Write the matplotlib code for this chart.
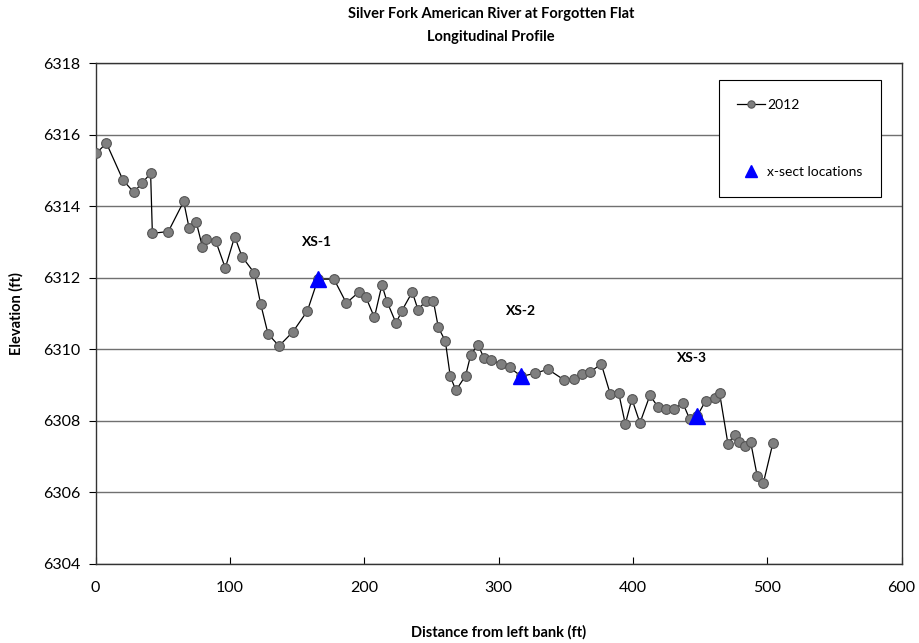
import matplotlib
matplotlib.use("Agg")
import matplotlib.pyplot as plt

# 2012 longitudinal profile (distance ft, elevation ft)
dist = [0.5, 8.0, 20.3, 28.3, 34.5, 40.9, 42.2, 54.1, 65.5, 69.5, 74.9, 79.4, 81.9,
        89.3, 96.5, 103.5, 108.9, 118.1, 122.8, 128.3, 136.5, 146.9, 157.6, 165.5,
        177.4, 186.6, 196.0, 201.0, 207.5, 213.1, 216.9, 223.6, 228.0, 235.7, 240.0,
        245.7, 251.4, 255.1, 260.3, 264.0, 268.2, 275.4, 279.2, 284.6, 289.1, 294.6,
        301.8, 308.2, 316.9, 327.3, 336.7, 348.4, 356.4, 361.8, 367.7, 376.4, 383.1,
        389.3, 394.3, 399.2, 405.2, 412.6, 418.8, 424.7, 430.3, 437.2, 442.2, 447.9,
        454.1, 460.8, 464.5, 470.7, 475.7, 478.9, 483.6, 487.6, 492.5, 497.0, 504.2]
elev = [6315.48, 6315.76, 6314.73, 6314.39, 6314.64, 6314.92, 6313.24, 6313.29,
        6314.13, 6313.40, 6313.55, 6312.87, 6313.08, 6313.03, 6312.27, 6313.15,
        6312.59, 6312.13, 6311.27, 6310.43, 6310.09, 6310.49, 6311.07, 6311.96,
        6311.96, 6311.29, 6311.60, 6311.47, 6310.89, 6311.80, 6311.33, 6310.73,
        6311.08, 6311.60, 6311.10, 6311.35, 6311.35, 6310.61, 6310.23, 6309.24,
        6308.85, 6309.26, 6309.84, 6310.13, 6309.75, 6309.71, 6309.58, 6309.49,
        6309.24, 6309.33, 6309.44, 6309.15, 6309.17, 6309.30, 6309.35, 6309.59,
        6308.75, 6308.79, 6307.91, 6308.61, 6307.94, 6308.71, 6308.38, 6308.33,
        6308.33, 6308.49, 6308.05, 6308.14, 6308.56, 6308.63, 6308.77, 6307.36,
        6307.61, 6307.42, 6307.30, 6307.41, 6306.46, 6306.25, 6307.38]

# cross-section locations
xs_names = ["XS-1", "XS-2", "XS-3"]
xs_dist = [165.5, 316.9, 447.9]
xs_elev = [6311.96, 6309.24, 6308.14]
xs_label_y = [6313.0, 6311.07, 6309.76]
xs_label_x = [164.6, 316.5, 443.7]

plt.rcParams["font.family"] = ["Lato", "DejaVu Sans"]

fig = plt.figure(figsize=(9.2, 6.43), dpi=100)
ax = fig.add_axes([0.104, 0.123, 0.876, 0.779])

ax.plot(dist, elev, "-o", color="black", lw=0.9, ms=7, mfc="#7f7f7f", mec="#555555",
        mew=0.8, label="2012", zorder=3)
ax.plot(xs_dist, xs_elev, "^", color="#0000ff", ms=11, ls="none",
        label="x-sect locations", zorder=4)
for name, x, y in zip(xs_names, xs_label_x, xs_label_y):
    ax.text(x, y, name, ha="center", va="center", fontsize=10, fontweight="bold")

ax.set_xlim(0, 600)
ax.set_ylim(6304, 6318)
ax.set_xticks(range(0, 601, 100))
ax.set_yticks(range(6304, 6319, 2))
ax.yaxis.grid(True, color="#707070", lw=1.0)
ax.set_axisbelow(True)
ax.tick_params(axis="x", direction="in", length=5, labelsize=11.5, pad=12)
ax.tick_params(axis="y", direction="out", length=5, labelsize=11.5, pad=6)
for s in ax.spines.values():
    s.set_color("#333333")
    s.set_linewidth(1.0)

ax.set_xlabel("Distance from left bank (ft)", fontsize=10.5, fontweight="bold", labelpad=22)
ax.set_ylabel("Elevation (ft)", fontsize=10.5, fontweight="bold", labelpad=14)
fig.text(0.534, 0.978, "Silver Fork American River at Forgotten Flat",
         ha="center", va="center", fontsize=10.5, fontweight="bold")
fig.text(0.534, 0.942, "Longitudinal Profile",
         ha="center", va="center", fontsize=10.5, fontweight="bold")

leg = ax.legend(loc="upper left", bbox_to_anchor=(0.773, 0.966), fancybox=False,
                edgecolor="black", framealpha=1, fontsize=10, labelspacing=4.0,
                borderpad=1.35, handlelength=2.0, handletextpad=0.15, borderaxespad=0,
                markerscale=0.75)
leg.get_frame().set_linewidth(0.8)

fig.savefig("out.png", dpi=100)
